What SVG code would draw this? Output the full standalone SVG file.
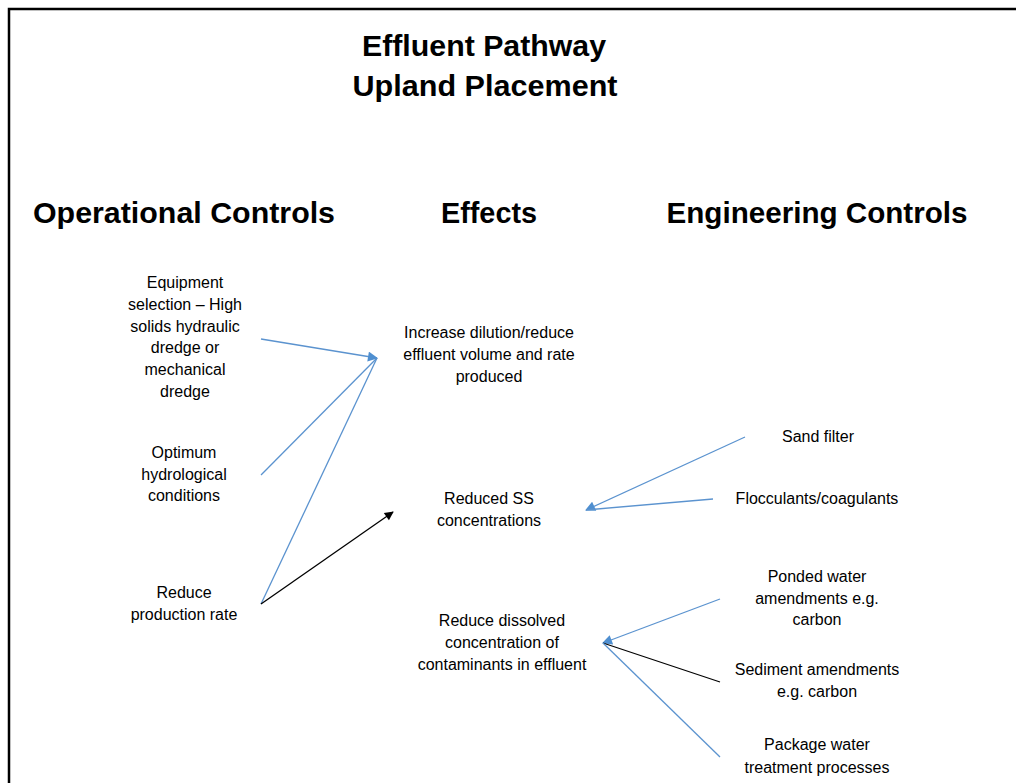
<svg xmlns="http://www.w3.org/2000/svg" width="1016" height="783" viewBox="0 0 1016 783">
<style>
.t{font-family:"Liberation Sans",Arial,sans-serif;font-weight:bold;font-size:30px;fill:#000;text-anchor:middle}
.b{font-family:"Liberation Sans",Arial,sans-serif;font-size:16px;fill:#000;text-anchor:middle}
.blue{stroke:#5b93cf;stroke-width:1.3;fill:none}
.blk{stroke:#000;stroke-width:1.3;fill:none}
</style>
<defs>
<marker id="ab" viewBox="0 0 10 10" refX="9" refY="5" markerWidth="12" markerHeight="10" markerUnits="userSpaceOnUse" orient="auto"><path d="M0,0L10,5L0,10z" fill="#4f8fd0"/></marker>
<marker id="ak" viewBox="0 0 10 10" refX="9" refY="5" markerWidth="11" markerHeight="9" markerUnits="userSpaceOnUse" orient="auto"><path d="M0,0L10,5L0,10z" fill="#000"/></marker>
</defs>
<rect width="1016" height="783" fill="#fff"/>
<path d="M9,790V9H1020" stroke="#000" stroke-width="2.5" fill="none"/>
<g id="title">
<text class="t" x="484" y="56" textLength="244" lengthAdjust="spacingAndGlyphs">Effluent Pathway</text>
<text class="t" x="485" y="96" textLength="265" lengthAdjust="spacingAndGlyphs">Upland Placement</text>
</g>
<g id="headers">
<text class="t" x="184" y="223" textLength="302" lengthAdjust="spacingAndGlyphs">Operational Controls</text>
<text class="t" x="489" y="223" textLength="96" lengthAdjust="spacingAndGlyphs">Effects</text>
<text class="t" x="817" y="223" textLength="301" lengthAdjust="spacingAndGlyphs">Engineering Controls</text>
</g>
<g id="connectors">
<line class="blue" x1="261" y1="339" x2="377" y2="358" marker-end="url(#ab)"/>
<line class="blue" x1="261" y1="475" x2="377" y2="358"/>
<line class="blue" x1="261" y1="604" x2="377" y2="358"/>
<line class="blk" x1="261" y1="604" x2="393" y2="512" marker-end="url(#ak)"/>
<line class="blue" x1="745" y1="437" x2="586" y2="510" marker-end="url(#ab)"/>
<line class="blue" x1="713" y1="499" x2="586" y2="510"/>
<line class="blue" x1="720" y1="599" x2="603" y2="643" marker-end="url(#ab)"/>
<line class="blk" x1="720" y1="682" x2="603" y2="643"/>
<line class="blue" x1="720" y1="757" x2="603" y2="643"/>
</g>
<g id="op1">
<text class="b" x="185" y="288">Equipment</text>
<text class="b" x="185" y="310">selection – High</text>
<text class="b" x="185" y="332">solids hydraulic</text>
<text class="b" x="185" y="353">dredge or</text>
<text class="b" x="185" y="375">mechanical</text>
<text class="b" x="185" y="397">dredge</text>
</g>
<g id="op2">
<text class="b" x="184" y="458">Optimum</text>
<text class="b" x="184" y="480">hydrological</text>
<text class="b" x="184" y="501">conditions</text>
</g>
<g id="op3">
<text class="b" x="184" y="598">Reduce</text>
<text class="b" x="184" y="620">production rate</text>
</g>
<g id="ef1">
<text class="b" x="489" y="338">Increase dilution/reduce</text>
<text class="b" x="489" y="360">effluent volume and rate</text>
<text class="b" x="489" y="382">produced</text>
</g>
<g id="ef2">
<text class="b" x="489" y="504">Reduced SS</text>
<text class="b" x="489" y="526">concentrations</text>
</g>
<g id="ef3">
<text class="b" x="502" y="626">Reduce dissolved</text>
<text class="b" x="502" y="648">concentration of</text>
<text class="b" x="502" y="670">contaminants in effluent</text>
</g>
<g id="en1"><text class="b" x="818" y="442">Sand filter</text></g>
<g id="en2"><text class="b" x="817" y="504">Flocculants/coagulants</text></g>
<g id="en3">
<text class="b" x="817" y="582">Ponded water</text>
<text class="b" x="817" y="604">amendments e.g.</text>
<text class="b" x="817" y="625">carbon</text>
</g>
<g id="en4">
<text class="b" x="817" y="675">Sediment amendments</text>
<text class="b" x="817" y="697">e.g. carbon</text>
</g>
<g id="en5">
<text class="b" x="817" y="750">Package water</text>
<text class="b" x="817" y="773">treatment processes</text>
</g>
</svg>
